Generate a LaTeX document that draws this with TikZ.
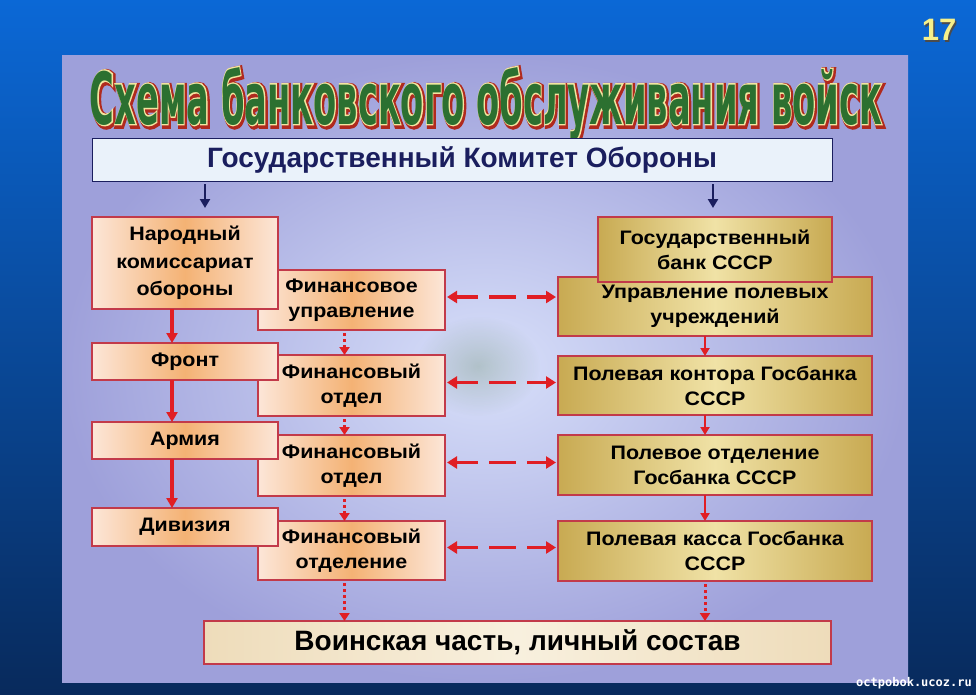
\documentclass[tikz,border=0pt]{standalone}
\usepackage{fontspec}
\setmainfont{Liberation Sans}
\newfontfamily\ttlG{DejaVu Sans}[UprightFont=* Bold]
\newfontfamily\ttlY{DejaVu Sans}[UprightFont=* Bold, FakeBold=4]
\newfontfamily\ttlR{DejaVu Sans}[UprightFont=* Bold, FakeBold=9]
\newfontfamily\boxfont{Liberation Sans}[UprightFont=* Bold, FakeStretch=1.1]
\newfontfamily\monof{DejaVu Sans Mono}
\usetikzlibrary{arrows.meta,calc,fadings}
\tikzfading[name=softblob, inner color=transparent!0, outer color=transparent!100]
\definecolor{bgtop}{HTML}{0B68D6}
\definecolor{bgmid}{HTML}{0A4FA6}
\definecolor{bgbot}{HTML}{082A5C}
\definecolor{panelout}{HTML}{9EA0DA}
\definecolor{panelin}{HTML}{D8E0FA}
\definecolor{bord}{HTML}{C23A4A}
\definecolor{peachE}{HTML}{FCE6D8}
\definecolor{peachM}{HTML}{F4B274}
\definecolor{goldE}{HTML}{C8AA52}
\definecolor{goldM}{HTML}{F0E2A6}
\definecolor{beigeE}{HTML}{EEDCBA}
\definecolor{beigeM}{HTML}{F8F0DE}
\definecolor{navy}{HTML}{1A1E5E}
\definecolor{arrred}{HTML}{E01E24}
\definecolor{gkofill}{HTML}{EAF2FA}
\definecolor{ttlgreen}{HTML}{2C7030}
\definecolor{ttlyel}{HTML}{F2E6A0}
\definecolor{ttlred}{HTML}{B02A1E}
\definecolor{numyel}{HTML}{F6F08A}
\definecolor{blob}{HTML}{6A8A70}
\newcommand\ttltext{Схема банковского обслуживания войск}
\newcommand\ttlbox[2]{\resizebox{792pt}{57pt}{#1\color{#2}\ttltext}}
\tikzset{
  base/.style={anchor=north west, inner sep=0pt, outer sep=0pt, align=center,
    font=\boxfont\fontsize{19.5}{25}\selectfont, text=black},
  pbox/.style={base, draw=bord, line width=1.5pt, left color=peachE, right color=peachE, middle color=peachM},
  gbox/.style={base, draw=bord, line width=1.5pt, left color=goldE, right color=goldE, middle color=goldM},
  ttlnode/.style={anchor=base, inner sep=0pt, outer sep=0pt},
  navyarr/.style={draw=navy, line width=2.8pt, -{Triangle[length=9pt,width=10pt]}},
  redarr/.style={draw=arrred, line width=3.2pt, -{Triangle[length=10pt,width=11pt]}},
  redarrs/.style={draw=arrred, line width=2.6pt, -{Triangle[length=8pt,width=9pt]}},
  dotarr/.style={draw=arrred, line width=3pt, dash pattern=on 3pt off 3pt, -{Triangle[length=8pt,width=10pt]}},
  dasharr/.style={draw=arrred, line width=3.6pt, dash pattern=on 22pt off 11pt on 27pt off 11pt on 22pt off 30pt,
    {Triangle[length=10pt,width=12pt]}-{Triangle[length=10pt,width=12pt]}}
}
\begin{document}
\begin{tikzpicture}[x=1pt,y=-1pt]
\useasboundingbox (0,0) rectangle (976,694);
\shade[top color=bgtop, middle color=bgmid, bottom color=bgbot] (0,0) rectangle (976,694);
\shade[inner color=panelin, outer color=panelout] (62,55) rectangle (908,682);
\fill[blob, path fading=softblob, opacity=0.35] (478,366) ellipse (62 and 50);

% title: red shadow, light outline, green letters
\node[ttlnode] (ttlred) at (487.5,125.5) {\ttlbox{\ttlR}{ttlred}};
\node[ttlnode] (ttlyel) at (486,124) {\ttlbox{\ttlY}{ttlyel}};
\node[ttlnode] (title) at (486,124) {\ttlbox{\ttlG}{ttlgreen}};

% GKO
\node[base, draw=navy, line width=1pt, fill=gkofill, minimum width=740pt, minimum height=43pt,
  font=\bfseries\fontsize{28}{32}\selectfont, text=navy] (gko) at (92,138) {Государственный Комитет Обороны};

% middle finance boxes (under the left boxes)
\node[pbox, minimum width=187pt, minimum height=60pt] (fo1) at (258,270) {Финансовое\\управление};
\node[pbox, minimum width=187pt, minimum height=61pt] (fo2) at (258,355) {Финансовый\\отдел};
\node[pbox, minimum width=187pt, minimum height=61pt] (fo3) at (258,435) {Финансовый\\отдел};
\node[pbox, minimum width=187pt, minimum height=59pt] (fo4) at (258,521) {Финансовый\\отделение};

% left boxes
\node[pbox, minimum width=186pt, minimum height=92pt, font=\boxfont\fontsize{19.5}{27.5}\selectfont] (nko) at (92,217) {Народный\\комиссариат\\обороны};
\node[pbox, minimum width=186pt, minimum height=37pt] (front) at (92,343) {Фронт};
\node[pbox, minimum width=186pt, minimum height=37pt] (army) at (92,422) {Армия};
\node[pbox, minimum width=186pt, minimum height=38pt] (div) at (92,508) {Дивизия};

% right boxes
\node[gbox, minimum width=314pt, minimum height=59pt] (upr) at (558,277) {Управление полевых\\учреждений};
\node[gbox, minimum width=234pt, minimum height=65pt] (gb) at (598,217) {Государственный\\банк СССР};
\node[gbox, minimum width=314pt, minimum height=59pt] (kont) at (558,356) {Полевая контора Госбанка\\СССР};
\node[gbox, minimum width=314pt, minimum height=60pt] (otd) at (558,435) {Полевое отделение\\Госбанка СССР};
\node[gbox, minimum width=314pt, minimum height=60pt] (kassa) at (558,521) {Полевая касса Госбанка\\СССР};

% bottom box
\node[base, draw=bord, line width=1.5pt, left color=beigeE, right color=beigeE, middle color=beigeM,
  minimum width=627pt, minimum height=43pt, font=\bfseries\fontsize{28}{30}\selectfont] (vch) at (204,621) {Воинская часть, личный состав};

% navy arrows
\draw[navyarr] ($(gko.south -| nko.north)+(20,3)$) -- ($(nko.north)+(20,-9)$);
\draw[navyarr] ($(gko.south -| gb.north)+(-2,3)$) -- ($(gb.north)+(-2,-9)$);

% left solid arrows
\draw[redarr] ($(nko.south)+(-13,0)$) -- ($(front.north)+(-13,0)$);
\draw[redarr] ($(front.south)+(-13,0)$) -- ($(army.north)+(-13,0)$);
\draw[redarr] ($(army.south)+(-13,0)$) -- ($(div.north)+(-13,0)$);

% middle dotted arrows
\draw[dotarr] ($(fo1.south)+(-7,3)$) -- ($(fo2.north)+(-7,0)$);
\draw[dotarr] ($(fo2.south)+(-7,3)$) -- ($(fo3.north)+(-7,0)$);
\draw[dotarr] ($(fo3.south)+(-7,3)$) -- ($(fo4.north)+(-7,0)$);
\draw[dotarr] ($(fo4.south)+(-7,3)$) -- ($(fo4.south |- vch.north)+(-7,0)$);

% right arrows
\draw[redarrs] ($(upr.south)+(-10,0)$) -- ($(kont.north)+(-10,0)$);
\draw[redarrs] ($(kont.south)+(-10,0)$) -- ($(otd.north)+(-10,0)$);
\draw[redarrs] ($(otd.south)+(-10,0)$) -- ($(kassa.north)+(-10,0)$);
\draw[dotarr] ($(kassa.south)+(-10,3)$) -- ($(kassa.south |- vch.north)+(-10,0)$);

% dashed double arrows
\draw[dasharr] ($(fo1.east)+(2,-3)$) -- ($(fo1.east -| upr.west)+(-2,-3)$);
\draw[dasharr] ($(fo2.east)+(2,-3)$) -- ($(fo2.east -| kont.west)+(-2,-3)$);
\draw[dasharr] ($(fo3.east)+(2,-3)$) -- ($(fo3.east -| otd.west)+(-2,-3)$);
\draw[dasharr] ($(fo4.east)+(2,-3)$) -- ($(fo4.east -| kassa.west)+(-2,-3)$);

% page number and watermark
\node[inner sep=0pt, text=black!70, font=\bfseries\fontsize{31}{33}\selectfont] (numsh) at (940.5,31.5) {17};
\node[inner sep=0pt, text=numyel, font=\bfseries\fontsize{31}{33}\selectfont] (num) at (939,30) {17};
\node[inner sep=0pt, text=white, font=\monof\bfseries\fontsize{12}{14}\selectfont] (wm) at (914,683) {octpobok.ucoz.ru};
\end{tikzpicture}
\end{document}
